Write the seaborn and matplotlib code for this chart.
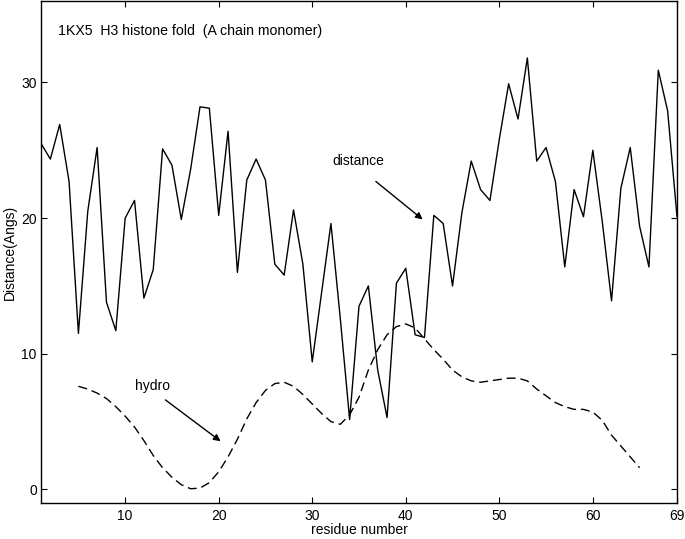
import numpy as np
import pandas as pd
import matplotlib.pyplot as plt
import seaborn as sns

# residue-wise distance (solid) and smoothed hydro profile (dashed)
residues = list(range(1, 70))
distance = [25.5, 24.35, 26.9, 22.7, 11.5, 20.5, 25.2, 13.8, 11.7, 20.0,
            21.3, 14.1, 16.2, 25.1, 23.9, 19.9, 23.6, 28.2, 28.1, 20.2,
            26.4, 16.0, 22.8, 24.35, 22.8, 16.6, 15.8, 20.6, 16.6, 9.4,
            14.5, 19.6, 12.6, 5.15, 13.5, 15.0, 8.8, 5.3, 15.2, 16.3,
            11.4, 11.2, 20.2, 19.6, 15.0, 20.4, 24.2, 22.1, 21.3, 25.8,
            29.9, 27.3, 31.8, 24.2, 25.2, 22.7, 16.4, 22.1, 20.1, 25.0,
            19.8, 13.9, 22.2, 25.2, 19.4, 16.4, 30.9, 27.9, 20.1]

hydro_res = list(range(5, 66))
hydro = [7.6, 7.4, 7.1, 6.7, 6.1, 5.4, 4.6, 3.6, 2.5, 1.6,
         0.9, 0.35, 0.05, 0.1, 0.5, 1.3, 2.4, 3.7, 5.2, 6.4,
         7.3, 7.8, 7.9, 7.6, 7.0, 6.3, 5.6, 5.0, 4.8, 5.5,
         6.8, 8.8, 10.3, 11.4, 12.0, 12.2, 11.9, 11.1, 10.3, 9.6,
         8.8, 8.3, 8.0, 7.9, 8.0, 8.1, 8.2, 8.2, 8.0, 7.4,
         6.9, 6.4, 6.1, 5.9, 5.9, 5.7, 5.1, 4.0, 3.2, 2.4, 1.6]

xticks = [10, 20, 30, 40, 50, 60, 69]
yticks = [0, 10, 20, 30]

sns.set_style("ticks")
plt.rcParams['font.family'] = ['Liberation Sans', 'DejaVu Sans']
plt.rcParams['text.color'] = 'black'
plt.rcParams['axes.labelcolor'] = 'black'

fig = plt.figure(figsize=(6.85, 5.39), dpi=100)
ax = fig.add_axes([41 / 685, 36 / 539, 636 / 685, 502 / 539])

df_d = pd.DataFrame({"residue": residues, "distance": distance})
df_h = pd.DataFrame({"residue": hydro_res, "hydro": hydro})
sns.lineplot(x="residue", y="distance", data=df_d, color="black", lw=1.0, ax=ax)
sns.lineplot(x="residue", y="hydro", data=df_h, color="black", lw=1.0,
             linestyle=(0, (6.5, 3.5)), ax=ax)

ax.set_xlim(1, 69)
ax.set_ylim(-1, 36)
ax.set_xticks(xticks)
ax.set_yticks(yticks)
ax.tick_params(direction="in", top=True, right=True, length=4, width=0.8,
               labelsize=10, colors="black")
ax.tick_params(axis="x", pad=4)
ax.tick_params(axis="y", pad=3)
for s in ax.spines.values():
    s.set_linewidth(1.0)
    s.set_color("black")

ax.set_xlabel("residue number", fontsize=10, labelpad=0.5)
ax.set_ylabel("Distance(Angs)", fontsize=10, labelpad=3)

ax.text(2.8, 33.8, "1KX5  H3 histone fold  (A chain monomer)", fontsize=10.2, va="center")

arrow = dict(arrowstyle="-|>", color="black", lw=1.0, mutation_scale=10, shrinkA=0, shrinkB=0)
ax.text(32.2, 24.2, "distance", fontsize=10, va="center")
ax.annotate("", xy=(41.8, 19.9), xytext=(36.8, 22.7), arrowprops=arrow)
ax.text(11.1, 7.6, "hydro", fontsize=10, va="center")
ax.annotate("", xy=(20.2, 3.55), xytext=(14.3, 6.6), arrowprops=arrow)

plt.savefig("out.png", dpi=100)
